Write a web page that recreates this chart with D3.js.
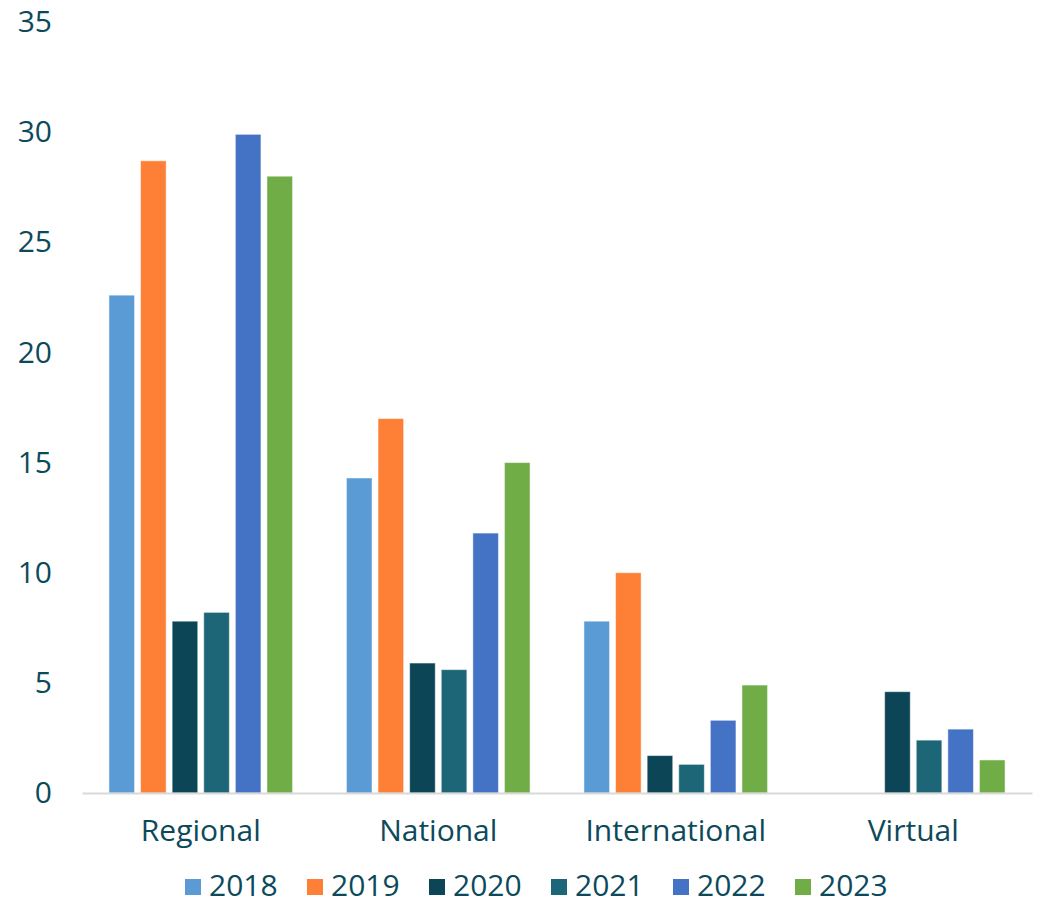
<!DOCTYPE html>
<meta charset="utf-8">
<head>
<script src="https://d3js.org/d3.v7.min.js"></script>
<style>
  body { margin: 0; background: #fff; }
  text { font-family: "Open Sans", sans-serif; fill: #0c4a5b; }
</style>
</head>
<body>
<div id="my_dataviz"></div>
<script>
  // categories and series
  const categories = ["Regional", "National", "International", "Virtual"];
  const years = ["2018", "2019", "2020", "2021", "2022", "2023"];
  const colors = ["#5b9bd5", "#fd8036", "#0b4556", "#1c6677", "#4472c4", "#70ad47"];

  // one array per year, in category order
  const v2018 = [22.6, 14.3, 7.8, 0];
  const v2019 = [28.7, 17.0, 10.0, 0];
  const v2020 = [7.8, 5.9, 1.7, 4.6];
  const v2021 = [8.2, 5.6, 1.3, 2.4];
  const v2022 = [29.9, 11.8, 3.3, 2.9];
  const v2023 = [28.0, 15.0, 4.9, 1.5];
  const yTicks = [0, 5, 10, 15, 20, 25, 30, 35];

  const series = [v2018, v2019, v2020, v2021, v2022, v2023];

  const W = 1038, H = 905;
  const fontSize = 30;
  const svg = d3.select("#my_dataviz")
    .append("svg")
      .attr("width", W)
      .attr("height", H);

  // scales
  const x0 = d3.scaleBand()
    .domain(categories)
    .range([82, 1032])
    .padding(0);
  const groupW = 183.6;
  const x1 = d3.scaleBand()
    .domain(years)
    .range([0, groupW])
    .paddingInner(0.19)
    .paddingOuter(0);
  const y = d3.scaleLinear()
    .domain([0, 35])
    .range([793, 22]);

  // bars
  const groups = svg.append("g").selectAll("g")
    .data(categories)
    .join("g")
      .attr("transform", d => `translate(${x0(d) + (x0.bandwidth() - groupW) / 2},0)`);

  groups.selectAll("rect")
    .data((c, i) => years.map((yr, k) => ({ year: yr, value: series[k][i], color: colors[k] })))
    .join("rect")
      .attr("x", d => x1(d.year))
      .attr("y", d => y(d.value))
      .attr("width", x1.bandwidth())
      .attr("height", d => y(0) - y(d.value))
      .attr("fill", d => d.color)
      .attr("stroke", "#fff")
      .attr("stroke-opacity", 0.5)
      .attr("stroke-width", 1)
      .style("display", d => d.value > 0 ? null : "none");

  // x axis line + labels
  const xAxis = svg.append("g")
    .attr("transform", `translate(0,${y(0)})`)
    .call(d3.axisBottom(x0).tickSize(0).tickPadding(27));
  xAxis.select(".domain").attr("stroke", "#d9d9d9").attr("stroke-width", 2);
  xAxis.selectAll("text")
    .style("font-family", "'Open Sans', sans-serif")
    .attr("font-size", fontSize)
    .attr("fill", "#0c4a5b");

  // y axis labels only
  const yAxis = svg.append("g")
    .attr("transform", "translate(52,0)")
    .call(d3.axisLeft(y).tickValues(yTicks).tickSize(0).tickPadding(0));
  yAxis.select(".domain").remove();
  yAxis.selectAll("text")
    .style("font-family", "'Open Sans', sans-serif")
    .attr("font-size", fontSize)
    .attr("fill", "#0c4a5b");

  // legend
  const legend = svg.append("g").selectAll("g")
    .data(years)
    .join("g")
      .attr("transform", (d, i) => `translate(${185 + i * 122},879)`);
  legend.append("rect")
    .attr("width", 16)
    .attr("height", 16)
    .attr("fill", (d, i) => colors[i]);
  legend.append("text")
    .attr("x", 24)
    .attr("y", 17)
    .attr("font-size", fontSize)
    .text(d => d);
</script>
</body>
